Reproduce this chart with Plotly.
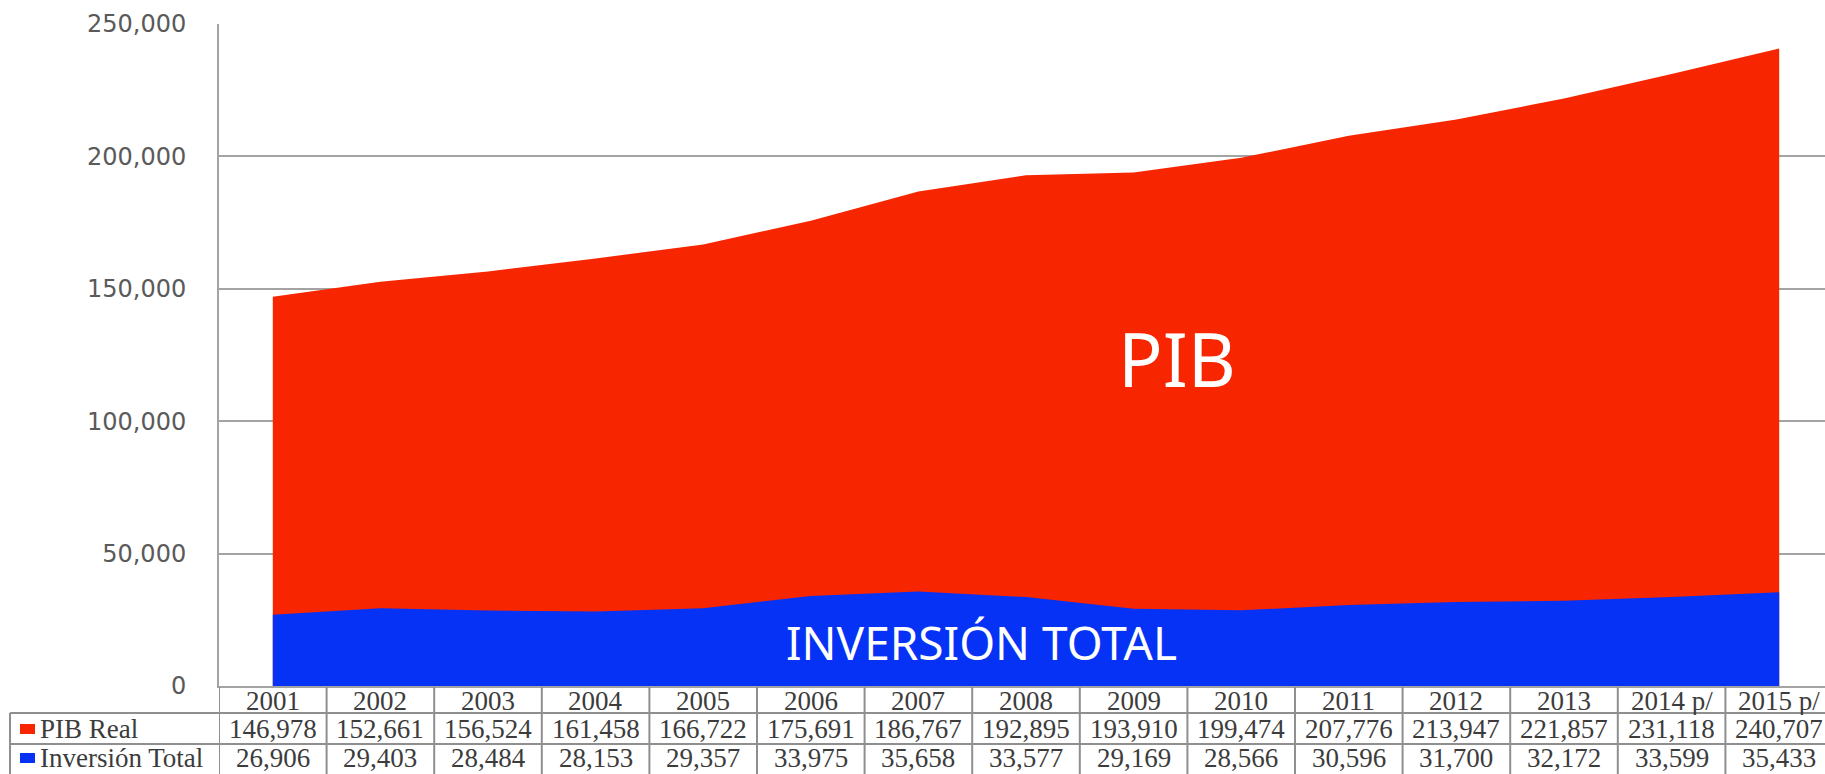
import plotly.graph_objects as go

years = ['2001', '2002', '2003', '2004', '2005', '2006', '2007', '2008',
         '2009', '2010', '2011', '2012', '2013', '2014 p/', '2015 p/']
pib_real = [146978, 152661, 156524, 161458, 166722, 175691, 186767, 192895,
            193910, 199474, 207776, 213947, 221857, 231118, 240707]
inversion_total = [26906, 29403, 28484, 28153, 29357, 33975, 35658, 33577,
                   29169, 28566, 30596, 31700, 32172, 33599, 35433]
row_labels = ['PIB Real', 'Inversión Total']
y_ticks = [0, 50000, 100000, 150000, 200000, 250000]

RED = '#f72600'
BLUE = '#0632f5'
GRID = '#a3a3a3'
TXT = '#3c3c3c'

W, H = 1825, 774
left, top, bottom = 219, 24, 686
plot_h = bottom - top
plot_w = W - left
col_w = 107.6


def py(y):
    # pixel row -> paper y
    return (bottom - y) / plot_h


def px(x):
    # pixel column -> paper x
    return (x - left) / plot_w


fig = go.Figure()
fig.add_trace(go.Scatter(x=years, y=pib_real, mode='lines', fill='tozeroy',
                         line=dict(width=0, color=RED), fillcolor=RED,
                         name='PIB Real', hoverinfo='x+y'))
fig.add_trace(go.Scatter(x=years, y=inversion_total, mode='lines', fill='tozeroy',
                         line=dict(width=0, color=BLUE), fillcolor=BLUE,
                         name='Inversión Total', hoverinfo='x+y'))

shapes = []
annotations = []

# area labels
annotations.append(dict(xref='paper', yref='paper', x=px(1177), y=py(358),
                        xanchor='center', yanchor='middle',
                        text='PIB', showarrow=False,
                        font=dict(family='Noto Sans', size=74, color='white')))
annotations.append(dict(xref='paper', yref='paper', x=px(981), y=py(642),
                        xanchor='center', yanchor='middle',
                        text='INVERSIÓN TOTAL', showarrow=False,
                        font=dict(family='Noto Sans', size=46, color='white')))

# data table under the axis
row_y = [701, 729, 758]
rows = [years, ['{:,}'.format(v) for v in pib_real],
        ['{:,}'.format(v) for v in inversion_total]]
for r, vals in enumerate(rows):
    for i, v in enumerate(vals):
        annotations.append(dict(xref='x', yref='paper', x=i, y=py(row_y[r]),
                                text=v, showarrow=False, height=28,
                                xanchor='center', yanchor='middle',
                                font=dict(family='Liberation Serif', size=27, color=TXT)))

for r, (lab, c) in enumerate(zip(row_labels, [RED, BLUE])):
    yc = row_y[r + 1]
    annotations.append(dict(xref='paper', yref='paper', x=px(38), y=py(yc),
                            xanchor='left', yanchor='middle', showarrow=False,
                            text=lab, height=28,
                            font=dict(family='Liberation Serif', size=27, color=TXT)))
    shapes.append(dict(type='rect', xref='paper', yref='paper',
                       x0=px(20), x1=px(35), y0=py(yc - 5), y1=py(yc + 5),
                       fillcolor=c, line=dict(width=0)))

line = dict(color='#8f8f8f', width=2)
for i in range(len(years) + 1):
    shapes.append(dict(type='line', xref='x', yref='paper', x0=i - 0.5, x1=i - 0.5,
                       y0=py(687), y1=py(780), line=line))
# label column left border
shapes.append(dict(type='line', xref='paper', yref='paper', x0=px(10), x1=px(10),
                   y0=py(713), y1=py(780), line=line))
for yy in [713, 744]:
    shapes.append(dict(type='line', xref='paper', yref='paper', x0=px(10), x1=1.01,
                       y0=py(yy), y1=py(yy), line=line))

fig.update_layout(
    width=W, height=H,
    margin=dict(l=left, r=0, t=top, b=H - bottom),
    plot_bgcolor='white', paper_bgcolor='white',
    showlegend=False,
    shapes=shapes, annotations=annotations,
    xaxis=dict(type='category', range=[-0.5, -0.5 + plot_w / col_w],
               showticklabels=False, showgrid=False, zeroline=False,
               showline=True, linecolor=GRID, linewidth=2),
    yaxis=dict(range=[0, 250000], tickvals=y_ticks, tickformat=',',
               showgrid=True, gridcolor=GRID, gridwidth=2, zeroline=False,
               showline=True, linecolor=GRID, linewidth=2,
               ticklabelstandoff=26,
               tickfont=dict(family='DejaVu Sans', size=24, color='#5a5a5a')),
)

fig.write_html('out.html', config={'displayModeBar': False},
               post_script="document.body.style.margin='0';")
